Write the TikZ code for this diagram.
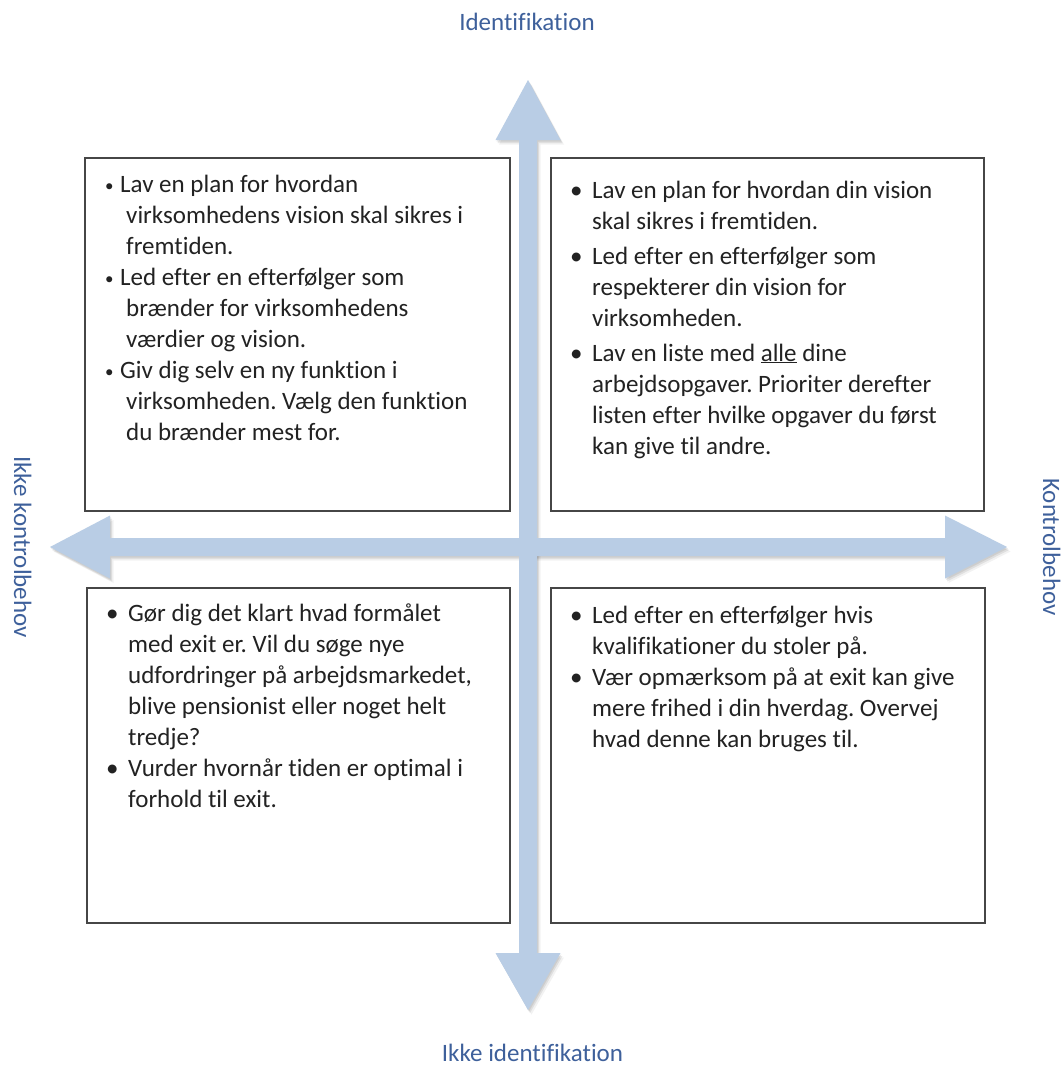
\documentclass[tikz,border=0pt]{standalone}
\usepackage{fontspec}
\setmainfont{Carlito}[Ligatures={NoCommon}]
\frenchspacing
\definecolor{lblue}{RGB}{185,205,229}
\definecolor{tblue}{RGB}{62,96,155}
\definecolor{tgray}{RGB}{34,34,34}
\definecolor{bgray}{RGB}{70,70,70}
\newcommand{\bx}[1]{\leavevmode\llap{\makebox[#1][l]{•}}}
\newcommand{\sbx}{\leavevmode\llap{\makebox[15pt][l]{\fontsize{17}{17}\selectfont\raisebox{1.5pt}{•}}}}
\begin{document}
\begin{tikzpicture}[x=1pt,y=-1pt,
  qbox/.style={draw=bgray,line width=2pt,fill=white,inner sep=0pt,anchor=north west},
  boxtext/.style={inner sep=0pt,anchor=base west,text=tgray,font=\fontsize{25}{31}\selectfont},
  axislabel/.style={inner sep=0pt,anchor=base,text=tblue,font=\fontsize{25}{30}\selectfont},
  arrowfill/.style={fill=lblue,draw=none},
  arrowshadow/.style={fill=black,draw=none}]
\useasboundingbox (0,0) rectangle (1062,1066);
\fill[white] (0,0) rectangle (1062,1066);

% shadows of the axis arrows
\foreach \dx/\dy/\op in {3.5/4.5/0.05,2/3/0.08,1/1.5/0.08}{
  \fill[arrowshadow,opacity=\op,shift={(\dx,\dy)}]
    (528,80) -- (560.5,140) -- (537,140) -- (537,953) -- (560.5,953) -- (528,1010)
    -- (495.5,953) -- (519,953) -- (519,140) -- (495.5,140) -- cycle;
  \fill[arrowshadow,opacity=\op,shift={(\dx,\dy)}]
    (50,547) -- (110,515.5) -- (110,538) -- (945,538) -- (945,515.5) -- (1007,547)
    -- (945,578.5) -- (945,556) -- (110,556) -- (110,578.5) -- cycle;
}
% axis arrows
\fill[arrowfill]
    (528,80) -- (560.5,140) -- (537,140) -- (537,953) -- (560.5,953) -- (528,1010)
    -- (495.5,953) -- (519,953) -- (519,140) -- (495.5,140) -- cycle;
\fill[arrowfill]
    (50,547) -- (110,515.5) -- (110,538) -- (945,538) -- (945,515.5) -- (1007,547)
    -- (945,578.5) -- (945,556) -- (110,556) -- (110,578.5) -- cycle;

% quadrant boxes
\node[qbox,minimum width=425pt,minimum height=353pt] (tl) at (84,157) {};
\node[qbox,minimum width=433pt,minimum height=353pt] (tr) at (550,157) {};
\node[qbox,minimum width=423pt,minimum height=335pt] (bl) at (86,587) {};
\node[qbox,minimum width=434pt,minimum height=335pt] (br) at (550,587) {};

% box texts
\node[boxtext] (tltext) at (120,192.5) {\parbox[t]{390pt}{%
\sbx Lav en plan for hvordan\\
\hspace*{6pt}virksomhedens vision skal sikres i\\
\hspace*{6pt}fremtiden.\\
\sbx Led efter en efterfølger som\\
\hspace*{6pt}brænder for virksomhedens\\
\hspace*{6pt}værdier og vision.\\
\sbx Giv dig selv en ny funktion i\\
\hspace*{6pt}virksomheden. Vælg den funktion\\
\hspace*{6pt}du brænder mest for.}};

\node[boxtext] (trtext) at (592,198) {\parbox[t]{380pt}{%
\bx{22pt}Lav en plan for hvordan din vision\\
skal sikres i fremtiden.\\[4pt]
\bx{22pt}Led efter en efterfølger som\\
respekterer din vision for\\
virksomheden.\\[4pt]
\bx{22pt}Lav en liste med \underline{alle} dine\\
arbejdsopgaver. Prioriter derefter\\
listen efter hvilke opgaver du først\\
kan give til andre.}};

\node[boxtext] (bltext) at (128,621.5) {\parbox[t]{370pt}{%
\bx{22pt}Gør dig det klart hvad formålet\\
med exit er. Vil du søge nye\\
udfordringer på arbejdsmarkedet,\\
blive pensionist eller noget helt\\
tredje?\\
\bx{22pt}Vurder hvornår tiden er optimal i\\
forhold til exit.}};

\node[boxtext] (brtext) at (592,623.5) {\parbox[t]{380pt}{%
\bx{22pt}Led efter en efterfølger hvis\\
kvalifikationer du stoler på.\\
\bx{22pt}Vær opmærksom på at exit kan give\\
mere frihed i din hverdag. Overvej\\
hvad denne kan bruges til.}};

% axis labels
\node[axislabel] (top) at (527,30) {Identifikation};
\node[axislabel] (bottom) at (532.5,1061) {Ikke identifikation};
\node[axislabel,rotate=-90] (left) at (14,547) {Ikke kontrolbehov};
\node[axislabel,rotate=-90] (right) at (1043,547) {Kontrolbehov};
\end{tikzpicture}
\end{document}
